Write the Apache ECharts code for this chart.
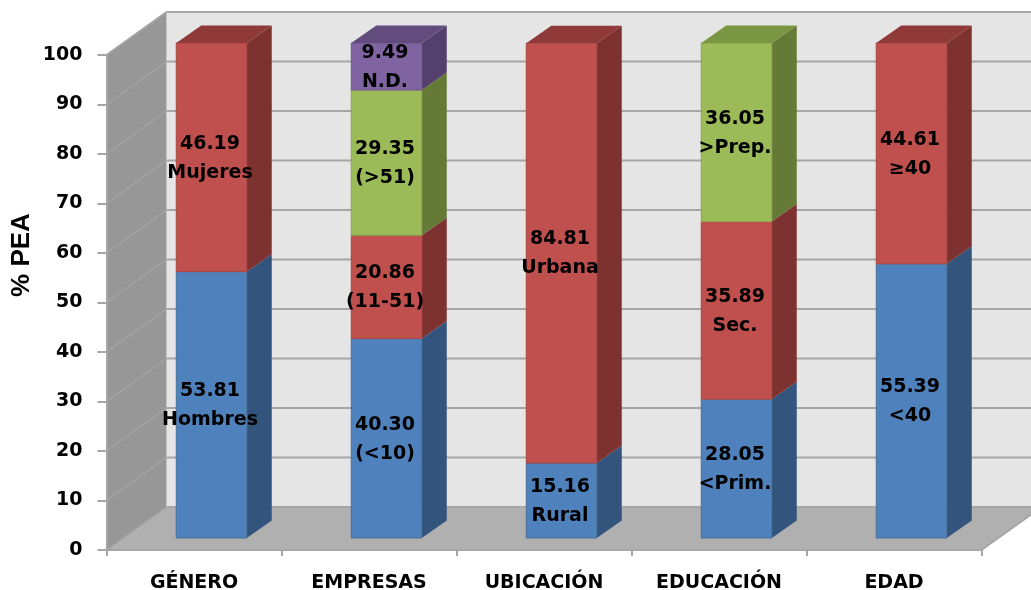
<!DOCTYPE html>
<html><head><meta charset="utf-8">
<style>html,body{margin:0;padding:0;background:#fff}#c{width:1031px;height:590px}</style>
<script src="https://cdn.jsdelivr.net/npm/echarts@6/dist/echarts.min.js"></script>
</head><body><div id="c"></div>
<script>
const categories = ['GÉNERO','EMPRESAS','UBICACIÓN','EDUCACIÓN','EDAD'];
const yTicks = [0,10,20,30,40,50,60,70,80,90,100];
const blueValues   = [53.81,40.30,15.16,28.05,55.39];
const blueNames    = ['Hombres','(<10)','Rural','<Prim.','<40'];
const redValues    = [46.19,20.86,84.81,35.89,44.61];
const redNames     = ['Mujeres','(11-51)','Urbana','Sec.','≥40'];
const greenValues  = [null,29.35,null,36.05,null];
const greenNames   = ['','(>51)','','>Prep.',''];
const purpleValues = [null,9.49,null,null,null];
const purpleNames  = ['','N.D.','','',''];

const FONT = '"DejaVu Sans", sans-serif';
const WALL = {dx:60, dy:-43};
const BAR  = {dx:17.5, dy:-12, width:70.5, depthX:25, depthY:-17.5};
const layers = [
  {name:'Azul',   values:blueValues,   names:blueNames,   front:'#4f81bd', side:'#33547c', top:'#3d6394', edge:'#457099'},
  {name:'Rojo',   values:redValues,    names:redNames,    front:'#c0504d', side:'#7e3230', top:'#8f3a38', edge:'#a94643'},
  {name:'Verde',  values:greenValues,  names:greenNames,  front:'#9bbb59', side:'#667a38', top:'#7a9642', edge:'#8aa74e'},
  {name:'Morado', values:purpleValues, names:purpleNames, front:'#8064a2', side:'#54406c', top:'#624c7e', edge:'#70578f'}
];
// running stack per category
const base = categories.map(()=>0);
const totals = categories.map((_,i)=>layers.reduce((s,l)=>s+(l.values[i]||0),0));
const poly = (points,fill,stroke,z2)=>({type:'polygon',shape:{points},z2:z2||0,style:{fill,stroke:stroke||fill,lineWidth:stroke?1:0}});
const line = (a,b,color,w)=>({type:'line',shape:{x1:a[0],y1:a[1],x2:b[0],y2:b[1]},style:{stroke:color,lineWidth:w,fill:null}});

const barSeries = layers.map(layer=>{
  const data = [];
  layer.values.forEach((v,i)=>{
    if(v==null) return;
    data.push([i, base[i], base[i]+v, base[i]+v>=totals[i]-0.001 ? 1:0, v, layer.names[i]]);
    base[i]+=v;
  });
  return {
    type:'custom', name:layer.name, coordinateSystem:'cartesian2d', z:5, clip:false,
    encode:{x:0,y:[1,2]}, data,
    renderItem(params,api){
      const c=api.value(0), lo=api.coord([c,api.value(1)]), hi=api.coord([c,api.value(2)]);
      const x0=lo[0]+BAR.dx-BAR.width/2, x1=x0+BAR.width;
      const y0=lo[1]+BAR.dy, y1=hi[1]+BAR.dy;
      const dx=BAR.depthX, dy=BAR.depthY;
      const kids=[
        poly([[x1,y0],[x1+dx,y0+dy],[x1+dx,y1+dy],[x1,y1]],layer.side),
        {type:'rect',shape:{x:x0,y:y1,width:BAR.width,height:y0-y1},style:{fill:layer.front,stroke:layer.edge,lineWidth:1}}
      ];
      if(api.value(3)) kids.push(poly([[x0,y1],[x1,y1],[x1+dx,y1+dy],[x0+dx,y1+dy]],layer.top));
      kids.push({type:'text',z2:50,style:{
        text:Number(api.value(4)).toFixed(2)+'\n'+layer.names[c],
        x:(x0+x1)/2-1.5,y:(y0+y1)/2+1,align:'center',verticalAlign:'middle',
        font:'bold 19px '+FONT,fill:'#000',lineHeight:29}});
      return {type:'group',children:kids};
    }
  };
});

const wallSeries = {
  type:'custom', name:'Paredes', coordinateSystem:'cartesian2d', z:1, clip:false,
  encode:{y:1}, data:yTicks.map(t=>[0,t]), silent:true,
  renderItem(params,api){
    const t=api.value(1);
    const band=api.size([1,0])[0];
    const L=api.coord([0,t])[0]-band/2, R=L+band*categories.length, y=api.coord([0,t])[1];
    const y0=api.coord([0,0])[1], yT=api.coord([0,100])[1];
    const kids=[];
    const dx=WALL.dx, dy=WALL.dy;
    if(t===0){
      kids.push(poly([[L+dx,yT+dy],[R+dx,yT+dy],[R+dx,y0+dy],[L+dx,y0+dy]],'#e5e5e5'));
      kids.push(poly([[L,yT],[L+dx,yT+dy],[L+dx,y0+dy],[L,y0]],'#979797'));
      kids.push(poly([[L,y0],[L+dx,y0+dy],[R+dx,y0+dy],[R,y0]],'#b0b0b0'));
      kids.push(line([R,y0],[R+dx,y0+dy],'#a6a6a6',2));
    }
    kids.push(line([L,y],[L+dx,y+dy],'#a4a4a4',t===100?2:1.5));
    kids.push(line([L+dx,y+dy],[R+dx,y+dy],'#a6a6a6',2.2));
    return {type:'group',children:kids};
  }
};

const chart = echarts.init(document.getElementById('c'),null,{renderer:'canvas'});
chart.setOption({
  animation:false, backgroundColor:'#fff',
  grid:{left:106.5,right:49.5,top:55,bottom:40,containLabel:false,outerBoundsMode:'none'},
  xAxis:{type:'category',data:categories,boundaryGap:true,z:10,
    axisLine:{show:true,lineStyle:{color:'#a6a6a6',width:2}},
    axisTick:{show:true,alignWithLabel:false,length:6,lineStyle:{color:'#a6a6a6',width:2}},
    axisLabel:{margin:24,interval:0,color:'#000',fontFamily:FONT,fontWeight:'bold',fontSize:19}},
  yAxis:{type:'value',min:0,max:100,interval:10,z:10,
    axisLine:{show:true,lineStyle:{color:'#a6a6a6',width:2}},
    axisTick:{show:true,length:9,lineStyle:{color:'#a6a6a6',width:2}},
    axisLabel:{margin:24,padding:[3,0,0,0],color:'#000',fontFamily:FONT,fontWeight:'bold',fontSize:19},
    splitLine:{show:false}},
  graphic:[{type:'text',x:22,y:255,rotation:Math.PI/2,z:100,
    style:{text:'% PEA',align:'center',verticalAlign:'middle',font:'bold 26px "Liberation Sans", Arial, sans-serif',fill:'#000'}}],
  series:[wallSeries].concat(barSeries)
});
</script></body></html>
